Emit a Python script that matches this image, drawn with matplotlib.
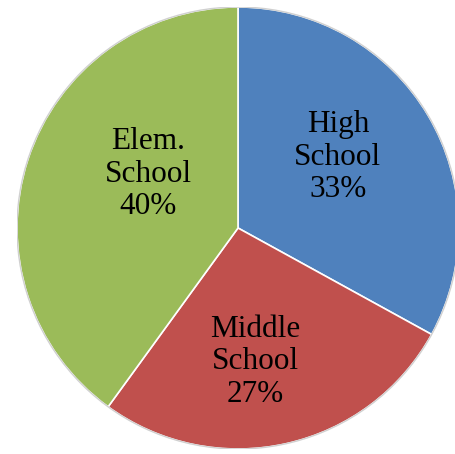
import matplotlib.pyplot as plt

labels = ["High\nSchool", "Middle\nSchool", "Elem.\nSchool"]
shares = [33, 27, 40]
colors = ["#4F81BD", "#C0504D", "#9BBB59"]

# label spots inside each wedge (pie radius = 1)
label_xy = [(0.452, 0.321), (0.077, -0.606), (-0.407, 0.244)]

fig = plt.figure(figsize=(4.56, 4.54), dpi=100)
ax = fig.add_axes([17 / 456, 5 / 454, 442 / 456, 442 / 454])

ax.pie(shares, colors=colors, startangle=90, counterclock=False,
       wedgeprops=dict(edgecolor="white", linewidth=1.2))
# faint grey rim around the pie
ax.add_patch(plt.Circle((0, 0), 1.0, fill=False, edgecolor="#d0d0d0", linewidth=1.0))
ax.set_xlim(-1, 1)
ax.set_ylim(-1, 1)
ax.set_aspect("equal")
ax.axis("off")

for lab, val, (x, y) in zip(labels, shares, label_xy):
    ax.text(x, y, f"{lab}\n{val}%", ha="center", va="center",
            fontsize=22.5, family="Liberation Serif", linespacing=1.15)

fig.savefig("out.png", dpi=100)
